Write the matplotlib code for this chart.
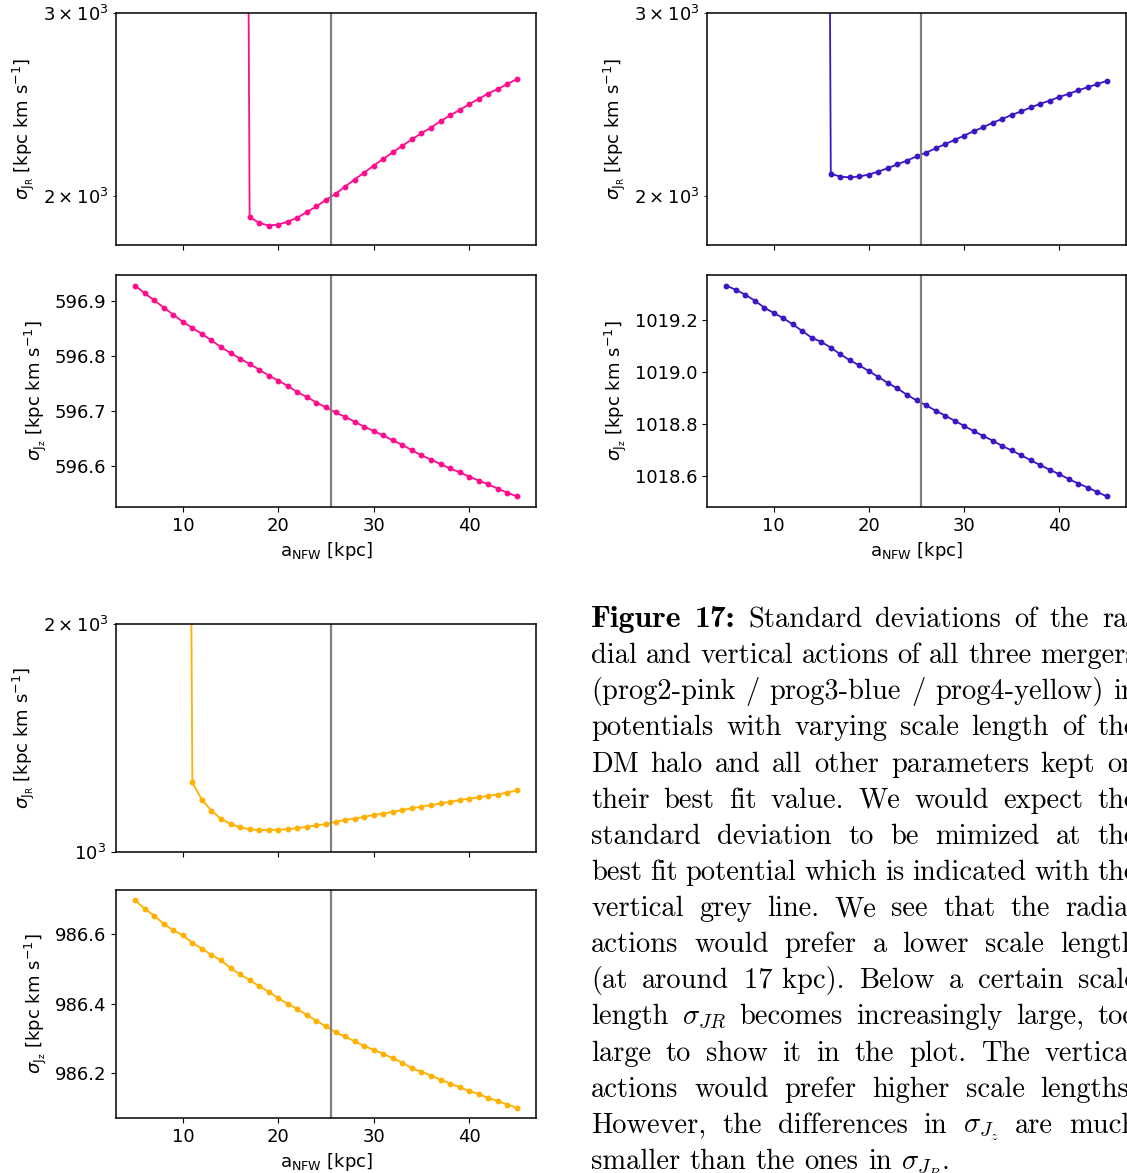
import matplotlib
matplotlib.use('Agg')
import matplotlib.pyplot as plt
from matplotlib.ticker import FixedLocator

# scale length of the NFW halo [kpc]
a_nfw = [5, 6, 7, 8, 9, 10, 11, 12, 13, 14, 15, 16, 17, 18, 19, 20, 21, 22, 23, 24, 25,
         26, 27, 28, 29, 30, 31, 32, 33, 34, 35, 36, 37, 38, 39, 40, 41, 42, 43, 44, 45]
a_best = 25.5

# prog2 (pink): radial / vertical action dispersions
prog2_jr = [9.6e5, 8.7e5, 7.9e5, 7.0e5, 6.1e5, 5.3e5, 4.5e5, 3.8e5, 3.1e5, 2.5e5, 2.0e5, 1.5e5,
            1910, 1885, 1874, 1878, 1890, 1907, 1931, 1955, 1984, 2010,
            2043, 2075, 2107, 2140, 2172, 2204, 2236, 2268, 2299, 2328,
            2361, 2392, 2420, 2452, 2481, 2510, 2536, 2563, 2592]
prog2_jz = [596.928, 596.914, 596.901, 596.888, 596.875, 596.862, 596.851, 596.840, 596.828,
            596.816, 596.805, 596.795, 596.785, 596.775, 596.764, 596.755, 596.745, 596.734,
            596.725, 596.715, 596.706, 596.697, 596.689, 596.680, 596.671, 596.663, 596.655,
            596.646, 596.638, 596.628, 596.619, 596.611, 596.603, 596.595, 596.588, 596.580,
            596.573, 596.566, 596.558, 596.551, 596.544]

# prog3 (blue)
prog3_jr = [9.1e5, 8.2e5, 7.3e5, 6.4e5, 5.6e5, 4.8e5, 4.0e5, 3.3e5, 2.6e5, 2.0e5, 1.5e5,
            2102, 2088, 2085, 2089, 2098, 2112, 2128, 2146, 2164, 2184,
            2202, 2223, 2244, 2265, 2287, 2309, 2330, 2353, 2373, 2394,
            2413, 2434, 2454, 2471, 2491, 2509, 2528, 2546, 2563, 2582]
prog3_jz = [1019.335, 1019.319, 1019.300, 1019.277, 1019.250, 1019.229, 1019.209, 1019.185,
            1019.159, 1019.133, 1019.117, 1019.095, 1019.069, 1019.046, 1019.026, 1019.004,
            1018.981, 1018.958, 1018.937, 1018.912, 1018.891, 1018.872, 1018.851, 1018.832,
            1018.812, 1018.792, 1018.772, 1018.753, 1018.735, 1018.714, 1018.697, 1018.678,
            1018.659, 1018.640, 1018.622, 1018.605, 1018.586, 1018.569, 1018.553, 1018.536,
            1018.519]

# prog4 (yellow)
prog4_jr = [6.2e5, 5.1e5, 4.0e5, 3.0e5, 2.2e5, 1.5e5,
            1236, 1172, 1134, 1106, 1089, 1078, 1072, 1069, 1069, 1070,
            1072, 1075, 1080, 1084, 1089, 1096, 1102, 1107, 1113, 1119,
            1124, 1130, 1136, 1142, 1148, 1153, 1159, 1165, 1171, 1176,
            1181, 1187, 1191, 1198, 1206]
prog4_jz = [986.698, 986.674, 986.654, 986.630, 986.612, 986.597, 986.576, 986.559, 986.541,
            986.525, 986.503, 986.485, 986.468, 986.451, 986.435, 986.416, 986.400, 986.385,
            986.368, 986.351, 986.335, 986.318, 986.306, 986.292, 986.279, 986.267, 986.256,
            986.243, 986.231, 986.214, 986.205, 986.193, 986.182, 986.170, 986.160, 986.149,
            986.140, 986.129, 986.120, 986.110, 986.101]

PINK = '#ff0d8c'
BLUE = '#3c16c4'
YELLOW = '#ffb000'

caption = [
    'Figure 17: Standard deviations of the ra-',
    'dial and vertical actions of all three mergers',
    '(prog2-pink / prog3-blue / prog4-yellow) in',
    'potentials with varying scale length of the',
    'DM halo and all other parameters kept on',
    'their best fit value.  We would expect the',
    'standard deviation to be mimized at the',
    'best fit potential which is indicated with the',
    'vertical grey line.  We see that the radial',
    'actions would prefer a lower scale length',
    '(at around 17\u00a0kpc).  Below a certain scale',
    r'length $\sigma_{JR}$ becomes increasingly large, too',
    'large to show it in the plot.  The vertical',
    'actions would prefer higher scale lengths.',
    r'However, the differences in $\sigma_{J_z}$ are much',
    r'smaller than the ones in $\sigma_{J_R}$.',
]

plt.rcParams['font.size'] = 13
plt.rcParams['axes.linewidth'] = 1.1

W, H = 1127, 1173
fig = plt.figure(figsize=(W / 100, H / 100), dpi=100)


def px_axes(left, top, right, bottom):
    return fig.add_axes([left / W, 1 - bottom / H, (right - left) / W, (bottom - top) / H])


def panel_pair(x0, x1, top_rows, bottom_rows, jr, jz, color, jr_lim):
    ax_r = px_axes(x0, top_rows[0], x1, top_rows[1])
    ax_z = px_axes(x0, bottom_rows[0], x1, bottom_rows[1])
    for ax, y in ((ax_r, jr), (ax_z, jz)):
        ax.plot(a_nfw, y, '-o', color=color, lw=1.3, ms=3.2)
        ax.axvline(a_best, color='grey', lw=1.6)
        ax.set_xlim(3, 47)
        ax.set_xticks([10, 20, 30, 40])
    ax_r.set_yscale('log')
    ax_r.yaxis.set_minor_locator(FixedLocator([2e3, 3e3, 4e3, 5e3, 6e3, 7e3, 8e3, 9e3]))
    ax_r.set_ylim(*jr_lim)
    ax_r.tick_params(labelbottom=False)
    ax_r.set_ylabel(r'$\sigma_{\rm J_R}$ [kpc km s$^{-1}$]')
    ax_z.set_ylabel(r'$\sigma_{\rm J_z}$ [kpc km s$^{-1}$]')
    ax_z.set_xlabel(r'a$_{\rm NFW}$ [kpc]')
    ax_z.ticklabel_format(axis='y', useOffset=False)
    return ax_r, ax_z


panel_pair(116, 536, (13, 245), (275, 507), prog2_jr, prog2_jz, PINK, (1795, 3000))
panel_pair(707, 1126, (13, 245), (275, 507), prog3_jr, prog3_jz, BLUE, (1795, 3000))
panel_pair(116, 536, (624, 852), (890, 1118), prog4_jr, prog4_jz, YELLOW, (1000, 2000))

# caption set as a justified paragraph, word by word
renderer = fig.canvas.get_renderer()
x_left, x_right = 591, 1137
base0, skip = 627, 36.13
for i, line in enumerate(caption):
    words = line.replace('  ', ' ').split(' ')
    texts = []
    for j, w in enumerate(words):
        bold = i == 0 and j < 2
        t = fig.text(0, 1 - (base0 + i * skip) / H, w.replace('\u00a0', ' '),
                     family='cmb10' if bold else 'cmr10',
                     fontsize=22.8 if bold else 20.5,
                     math_fontfamily='cm', va='baseline', ha='left')
        texts.append(t)
    widths = [t.get_window_extent(renderer).width for t in texts]
    if i == len(caption) - 1:
        gap = 0.33 * 20.5 * 100 / 72
    else:
        gap = (x_right - x_left - sum(widths)) / (len(words) - 1)
    x = x_left
    for t, wd in zip(texts, widths):
        t.set_x(x / W)
        x += wd + gap

fig.savefig('out.png', dpi=100)
